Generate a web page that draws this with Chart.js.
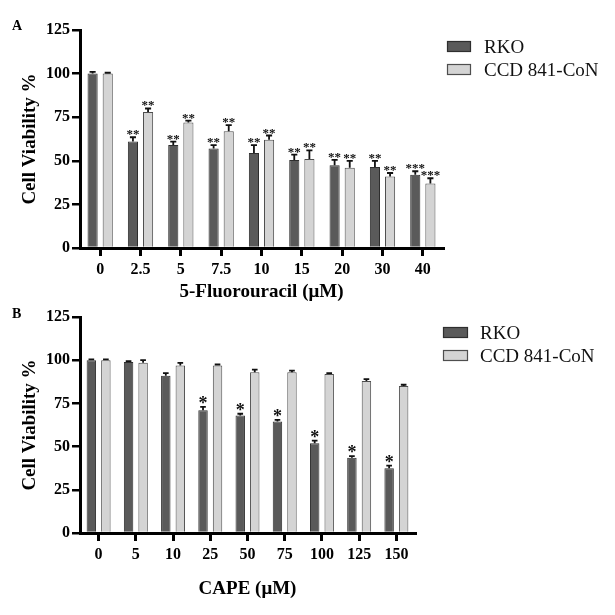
<!DOCTYPE html>
<html><head><meta charset="utf-8">
<script src="https://cdn.jsdelivr.net/npm/chart.js@4.4.1/dist/chart.umd.min.js"></script>
<style>
html,body{margin:0;padding:0;background:#fff;}
#wrap{position:relative;width:615px;height:615px;overflow:hidden;background:#fff;}
canvas{position:absolute;left:0;}
#cA{top:0;width:615px;height:303px;}
#cB{top:303px;width:615px;height:312px;}
</style></head><body>
<div id="wrap">
<canvas id="cA" width="615" height="303"></canvas>
<canvas id="cB" width="615" height="312"></canvas>
</div>
<script>
// ---- data ----
const seriesNames = ['RKO', 'CCD 841-CoN'];
const yTicks = [0, 25, 50, 75, 100, 125];

const dosesA = ['0', '2.5', '5', '7.5', '10', '15', '20', '30', '40'];
const rkoA    = [100, 61, 59, 57, 54.5, 50.5, 47.5, 46.5, 42];
const ccdA    = [100, 78, 72, 67, 62, 51, 46, 41, 37];
const rkoAErr = [1, 2.5, 2, 2, 4.5, 3, 3, 3.5, 2];
const ccdAErr = [0.5, 2, 1, 3.5, 2.5, 5, 4, 2, 3];
const rkoASig = ['', '**', '**', '**', '**', '**', '**', '**', '***'];
const ccdASig = ['', '**', '**', '**', '**', '**', '**', '**', '***'];

const dosesB = ['0', '5', '10', '25', '50', '75', '100', '125', '150'];
const rkoB    = [100, 99, 91, 71, 68, 64.5, 52, 43.5, 37.5];
const ccdB    = [100, 98.5, 97, 97, 93, 93, 92, 88, 85];
const rkoBErr = [0.5, 0.5, 1.5, 2, 1, 1, 1.5, 1, 1.5];
const ccdBErr = [0.5, 1.5, 1.5, 0.5, 1.5, 1, 0.5, 1, 0.8];
const rkoBSig = ['', '', '', '*', '*', '*', '*', '*', '*'];
const ccdBSig = ['', '', '', '', '', '', '', '', ''];

const titleA = '5-Fluorouracil (\u03bcM)';
const titleB = 'CAPE (\u03bcM)';
const yTitle = 'Cell Viability %';

// ---- styles ----
const SERIF = '"Liberation Serif", "Times New Roman", serif';
const darkFill = '#5a5a5a', darkBorder = '#2e2e2e';
const lightFill = '#d4d4d4', lightBorder = '#4e4e4e';

const errPlugin = {
  id: 'errbars',
  afterDatasetsDraw(chart, args, opts) {
    const ctx = chart.ctx, ys = chart.scales.y;
    chart.data.datasets.forEach((ds, di) => {
      const meta = chart.getDatasetMeta(di);
      meta.data.forEach((bar, i) => {
        const v = ds.data[i], e = ds.errors[i];
        const yTop = ys.getPixelForValue(v + e);
        const capW = bar.width * 0.6;
        ctx.save();
        ctx.strokeStyle = '#111';
        ctx.lineWidth = 1.8;
        ctx.beginPath();
        ctx.moveTo(bar.x, bar.y);
        ctx.lineTo(bar.x, yTop);
        ctx.moveTo(bar.x - capW / 2, yTop);
        ctx.lineTo(bar.x + capW / 2, yTop);
        ctx.stroke();
        const s = ds.sig[i];
        if (s) {
          ctx.font = opts.starFont;
          ctx.fillStyle = '#111';
          ctx.textAlign = 'center';
          ctx.textBaseline = 'alphabetic';
          const m = ctx.measureText(s);
          const bottom = yTop - opts.starGap;
          ctx.fillText(s, bar.x, bottom - m.actualBoundingBoxDescent);
        }
        ctx.restore();
      });
    });
  }
};

const legendPlugin = {
  id: 'customLegend',
  afterDraw(chart, args, o) {
    const ctx = chart.ctx;
    ctx.save();
    ctx.font = 'bold 14px ' + SERIF;
    ctx.fillStyle = '#000';
    ctx.textBaseline = 'alphabetic';
    ctx.fillText(o.panel, o.panelX, o.panelY);
    ctx.font = '19px ' + SERIF;
    chart.data.datasets.forEach((ds, i) => {
      const by = o.y + i * o.gap;
      ctx.fillStyle = ds.backgroundColor;
      ctx.strokeStyle = ds.borderColor;
      ctx.lineWidth = 1.2;
      ctx.fillRect(o.x, by, o.boxW, o.boxH);
      ctx.strokeRect(o.x + 0.5, by + 0.5, o.boxW - 1, o.boxH - 1);
      ctx.fillStyle = '#111';
      ctx.fillText(ds.label, o.textX, by + o.boxH + 0.5);
    });
    ctx.restore();
  }
};

function makeChart(id, labels, rko, ccd, rkoErr, ccdErr, rkoSig, ccdSig, xTitle, g) {
  return new Chart(document.getElementById(id), {
    type: 'bar',
    data: {
      labels: labels,
      datasets: [
        { label: seriesNames[0], data: rko, errors: rkoErr, sig: rkoSig,
          backgroundColor: darkFill, borderColor: darkBorder, borderWidth: 1,
          categoryPercentage: g.cat, barPercentage: g.bar },
        { label: seriesNames[1], data: ccd, errors: ccdErr, sig: ccdSig,
          backgroundColor: lightFill, borderColor: lightBorder, borderWidth: 1,
          categoryPercentage: g.cat, barPercentage: g.bar }
      ]
    },
    options: {
      responsive: false,
      animation: false,
      devicePixelRatio: 1,
      layout: { padding: { left: 0, right: g.padRight, top: g.padTop, bottom: 0 } },
      plugins: {
        legend: { display: false },
        tooltip: { enabled: false },
        errbars: { starFont: g.starFont, starGap: g.starGap },
        customLegend: g.legend
      },
      scales: {
        x: {
          offset: true,
          grid: { offset: false, drawOnChartArea: false, drawTicks: true, tickLength: 8,
                  color: '#000', lineWidth: 3 },
          border: { display: true, color: '#000', width: 3 },
          ticks: { color: '#000', font: { family: SERIF, size: 16, weight: 'bold' }, padding: 4,
                   maxRotation: 0, autoSkip: false },
          title: { display: true, text: xTitle, color: '#000',
                   font: { family: SERIF, size: 19, weight: 'bold', lineHeight: 1.2 },
                   padding: { top: 0, bottom: g.xTitlePadBottom } },
          afterFit: s => { s.height = g.xHeight; }
        },
        y: {
          min: 0, max: 125,
          afterBuildTicks: s => { s.ticks = yTicks.map(v => ({ value: v })); },
          grid: { drawOnChartArea: false, drawTicks: true, tickLength: 8, color: '#000', lineWidth: 2.5 },
          border: { display: true, color: '#000', width: 3 },
          ticks: { color: '#000', font: { family: SERIF, size: 16, weight: 'bold' }, padding: 2 },
          title: { display: true, text: yTitle, color: '#000',
                   font: { family: SERIF, size: 19, weight: 'bold', lineHeight: 1.2 },
                   padding: { top: 19, bottom: 0 } },
          afterFit: s => { s.width = 80; }
        }
      }
    },
    plugins: [errPlugin, legendPlugin]
  });
}

makeChart('cA', dosesA, rkoA, ccdA, rkoAErr, ccdAErr, rkoASig, ccdASig, titleA, {
  cat: 0.75, bar: 0.67, padRight: 172, padTop: 30, xHeight: 55, xTitlePadBottom: 0,
  starFont: 'bold 13px ' + SERIF, starGap: 2,
  legend: { panel: 'A', panelX: 12, panelY: 30, x: 447, y: 41, gap: 23, boxW: 24, boxH: 11, textX: 484 }
});
makeChart('cB', dosesB, rkoB, ccdB, rkoBErr, ccdBErr, rkoBSig, ccdBSig, titleB, {
  cat: 0.78, bar: 0.65, padRight: 200, padTop: 14, xHeight: 82, xTitlePadBottom: 15,
  starFont: 'bold 18px ' + SERIF, starGap: 3,
  legend: { panel: 'B', panelX: 12, panelY: 15, x: 443, y: 24, gap: 23, boxW: 25, boxH: 11, textX: 480 }
});
</script>
</body></html>
